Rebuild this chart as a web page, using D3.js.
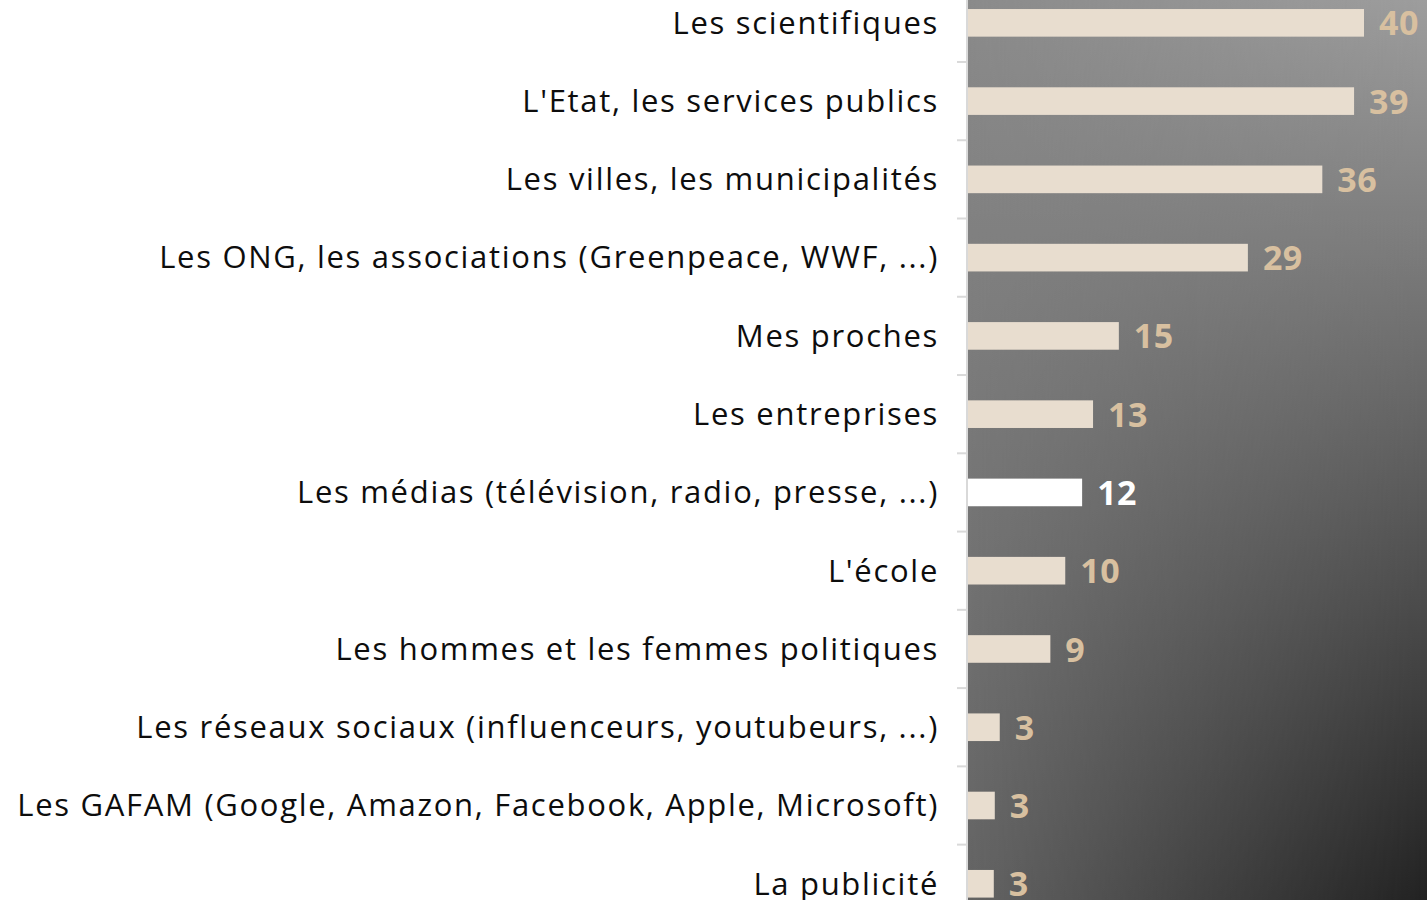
<!DOCTYPE html>
<html><head><meta charset="utf-8">
<script src="https://cdn.jsdelivr.net/npm/d3@7"></script>
<style>body{margin:0;background:#fff;overflow:hidden}</style>
</head><body><svg id="chart" width="1427" height="900"></svg>
<script>
const categories = [
  "Les scientifiques",
  "L'Etat, les services publics",
  "Les villes, les municipalités",
  "Les ONG, les associations (Greenpeace, WWF, ...)",
  "Mes proches",
  "Les entreprises",
  "Les médias (télévision, radio, presse, ...)",
  "L'école",
  "Les hommes et les femmes politiques",
  "Les réseaux sociaux (influenceurs, youtubeurs, ...)",
  "Les GAFAM (Google, Amazon, Facebook, Apple, Microsoft)",
  "La publicité"
];
const values = [40, 39, 35.8, 28.3, 15.3, 12.7, 11.6, 9.9, 8.4, 3.3, 2.8, 2.7];
const valueLabels = ["40", "39", "36", "29", "15", "13", "12", "10", "9", "3", "3", "3"];
const highlighted = "Les médias (télévision, radio, presse, ...)";

const W = 1427, H = 900;
const axisX = 967;
const svg = d3.select("#chart");
const defs = svg.append("defs");

// background gradients
const gBase = defs.append("linearGradient").attr("id", "gBase")
  .attr("x1", 0).attr("y1", 0).attr("x2", 0).attr("y2", 1);
gBase.append("stop").attr("offset", "0%").attr("stop-color", "#8b8b8b");
gBase.append("stop").attr("offset", "100%").attr("stop-color", "#646464");

const gRight = defs.append("linearGradient").attr("id", "gRight")
  .attr("x1", 0).attr("y1", 0).attr("x2", 0).attr("y2", 1);
gRight.append("stop").attr("offset", "0%").attr("stop-color", "#9d9d9d");
gRight.append("stop").attr("offset", "100%").attr("stop-color", "#222222");

const gMask = defs.append("linearGradient").attr("id", "gMask")
  .attr("x1", 0).attr("y1", 0).attr("x2", 1).attr("y2", 0);
gMask.append("stop").attr("offset", "0%").attr("stop-color", "#000");
gMask.append("stop").attr("offset", "100%").attr("stop-color", "#fff");
const mask = defs.append("mask").attr("id", "mRight");
mask.append("rect").attr("x", axisX).attr("y", 0).attr("width", W - axisX).attr("height", H)
  .attr("fill", "url(#gMask)");

svg.append("rect").attr("x", axisX).attr("y", 0).attr("width", W - axisX).attr("height", H)
  .attr("fill", "url(#gBase)");
svg.append("rect").attr("x", axisX).attr("y", 0).attr("width", W - axisX).attr("height", H)
  .attr("fill", "url(#gRight)").attr("mask", "url(#mRight)");

const y = d3.scaleBand().domain(categories).range([-16.3, 922.9])
  .paddingInner(0.647).paddingOuter(0.3235);
const x = d3.scaleLinear().domain([0, 40]).range([axisX, 1364]);

// bars
svg.append("g").selectAll("rect").data(categories).join("rect")
  .attr("x", x(0) + 1)
  .attr("y", d => y(d))
  .attr("width", (d, i) => x(values[i]) - x(0) - 1)
  .attr("height", y.bandwidth())
  .attr("fill", d => d === highlighted ? "#ffffff" : "#e8ddcf");

// value labels
svg.append("g").selectAll("text").data(categories).join("text")
  .attr("x", (d, i) => x(values[i]) + 15)
  .attr("y", d => y(d) + y.bandwidth() / 2)
  .attr("dy", "0.37em")
  .attr("font-family", "'Open Sans', sans-serif")
  .attr("font-weight", 700)
  .attr("font-size", 34)
  .attr("letter-spacing", 0.5)
  .attr("fill", d => d === highlighted ? "#ffffff" : "#d8c0a0")
  .text((d, i) => valueLabels[i]);

// axis line
const step = y.step();
svg.append("line").attr("x1", axisX).attr("x2", axisX).attr("y1", 0).attr("y2", H)
  .attr("stroke", "#d9d9d9").attr("stroke-width", 2);
// boundary ticks
const bounds = d3.range(categories.length + 1).map(k => y.range()[0] + k * step);
svg.append("g").selectAll("line").data(bounds).join("line")
  .attr("x1", axisX - 10).attr("x2", axisX).attr("y1", d => d).attr("y2", d => d)
  .attr("stroke", "#d9d9d9").attr("stroke-width", 2);

// category labels
const ax = svg.append("g").attr("transform", `translate(${axisX},0)`)
  .call(d3.axisLeft(y).tickSize(0).tickPadding(28));
ax.select(".domain").remove();
ax.selectAll("text")
  .attr("font-family", "'Open Sans', sans-serif")
  .attr("font-size", 31)
  .attr("letter-spacing", 1.7)
  .attr("dy", "0.35em")
  .attr("fill", "#0d0d0d");
</script>
</body></html>
